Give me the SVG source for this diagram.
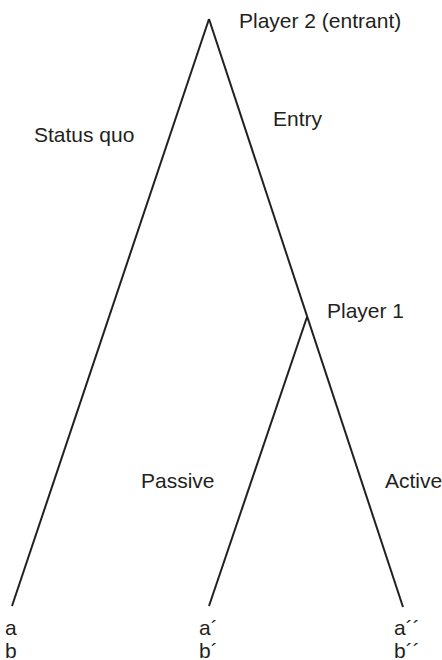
<svg xmlns="http://www.w3.org/2000/svg" width="442" height="660" viewBox="0 0 442 660">
<style>
text{font-family:"Liberation Sans",Arial,sans-serif;font-size:21px;fill:#231f20}
.e{stroke:#231f20;stroke-width:2;fill:none}
</style>
<rect width="442" height="660" fill="#fff"/>
<g id="connectors">
<line class="e" x1="209" y1="19" x2="12" y2="606"/>
<line class="e" x1="209" y1="19" x2="403" y2="607"/>
<line class="e" x1="307" y1="317" x2="209" y2="606"/>
</g>
<g id="node-player2"><text x="239" y="28">Player 2 (entrant)</text></g>
<g id="label-statusquo"><text x="34" y="142">Status quo</text></g>
<g id="label-entry"><text x="273" y="126">Entry</text></g>
<g id="node-player1"><text x="327" y="318">Player 1</text></g>
<g id="label-passive"><text x="141" y="488">Passive</text></g>
<g id="label-active"><text x="385" y="488">Active</text></g>
<g id="leaf-1"><text x="5" y="635">a</text><text x="5" y="658">b</text></g>
<g id="leaf-2"><text x="199" y="635">a´</text><text x="199" y="658">b´</text></g>
<g id="leaf-3"><text x="394" y="635">a´´</text><text x="394" y="658">b´´</text></g>
</svg>
